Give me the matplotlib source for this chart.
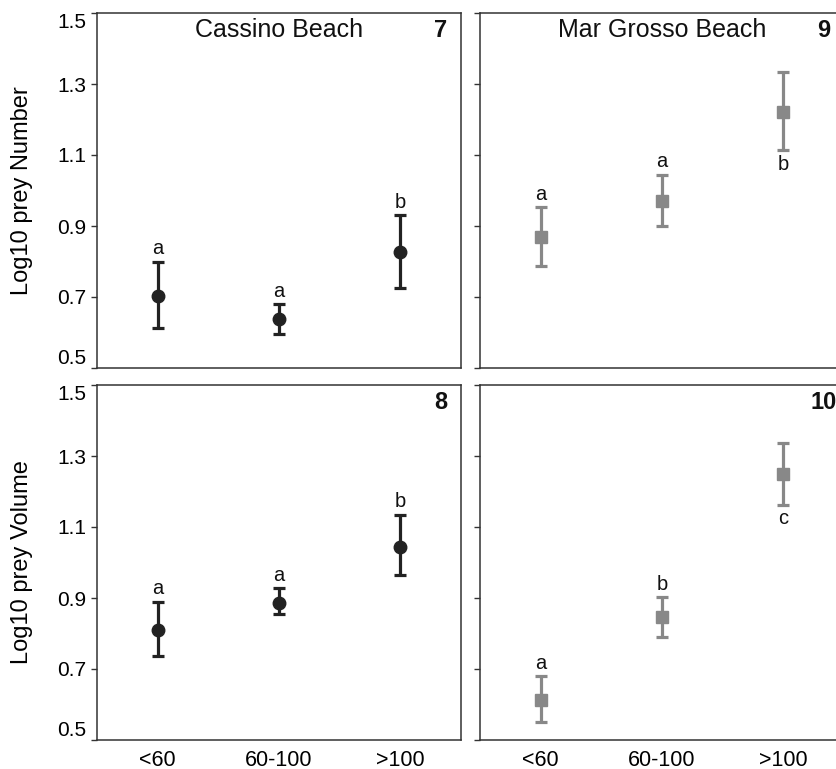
import matplotlib
matplotlib.use("Agg")
import matplotlib.pyplot as plt

plt.rcParams['font.family'] = ['Liberation Sans', 'DejaVu Sans']

categories = ["<60", "60-100", ">100"]
yticks = [0.5, 0.7, 0.9, 1.1, 1.3, 1.5]

# Cassino Beach - number (panel 7)
cas_num_mean = [0.704, 0.637, 0.826]
cas_num_hi = [0.799, 0.680, 0.930]
cas_num_lo = [0.612, 0.595, 0.726]
cas_num_letters = ["a", "a", "b"]
cas_num_pos = ["above", "above", "above"]

# Mar Grosso Beach - number (panel 9)
mg_num_mean = [0.868, 0.970, 1.220]
mg_num_hi = [0.953, 1.044, 1.333]
mg_num_lo = [0.788, 0.901, 1.113]
mg_num_letters = ["a", "a", "b"]
mg_num_pos = ["above", "above", "below"]

# Cassino Beach - volume (panel 8)
cas_vol_mean = [0.810, 0.887, 1.045]
cas_vol_hi = [0.890, 0.927, 1.135]
cas_vol_lo = [0.736, 0.854, 0.964]
cas_vol_letters = ["a", "a", "b"]
cas_vol_pos = ["above", "above", "above"]

# Mar Grosso Beach - volume (panel 10)
mg_vol_mean = [0.613, 0.846, 1.249]
mg_vol_hi = [0.680, 0.902, 1.336]
mg_vol_lo = [0.550, 0.790, 1.162]
mg_vol_letters = ["a", "b", "c"]
mg_vol_pos = ["above", "above", "below"]

W, H = 837, 769
fig = plt.figure(figsize=(W / 100, H / 100), dpi=100)

def box(x0, y0, x1, y1):
    return [x0 / W, 1 - y1 / H, (x1 - x0) / W, (y1 - y0) / H]

ax_tl = fig.add_axes(box(97, 13, 461, 368))
ax_tr = fig.add_axes(box(480, 13, 844, 368))
ax_bl = fig.add_axes(box(97, 385, 461, 740))
ax_br = fig.add_axes(box(480, 385, 844, 740))

dark = "#222222"
gray = "#888888"
spine_col = "#333333"

def draw(ax, mean, hi, lo, letters, pos, color, marker, ms, number, title=None,
         ylabel=None, ylabels=True, xlabels=False):
    x = [1, 2, 3]
    yerr = [[m - l for m, l in zip(mean, lo)], [h - m for m, h in zip(mean, hi)]]
    ax.errorbar(x, mean, yerr=yerr, fmt=marker, color=color, ecolor=color,
                ms=ms, elinewidth=2.3, capsize=4.6, capthick=2.3, zorder=3)
    for xi, l, h, lt, p in zip(x, lo, hi, letters, pos):
        if p == "above":
            ax.annotate(lt, (xi, h), xytext=(0, 2.5), textcoords="offset points",
                        ha="center", va="bottom", fontsize=14.5, color="#111111")
        else:
            ax.annotate(lt, (xi, l), xytext=(0, -3), textcoords="offset points",
                        ha="center", va="top", fontsize=14.5, color="#111111")
    ax.set_xlim(0.5, 3.5)
    ax.set_ylim(0.5, 1.5)
    ax.set_yticks(yticks)
    if ylabels:
        ax.set_yticklabels([f"{v:.1f}" for v in yticks], fontsize=15)
        labs = ax.get_yticklabels()
        labs[0].set_verticalalignment("bottom")
        labs[-1].set_verticalalignment("top")
    else:
        ax.set_yticklabels([])
    ax.set_xticks(x)
    if xlabels:
        ax.set_xticklabels(categories, fontsize=15.5)
    else:
        ax.set_xticklabels([])
    ax.tick_params(axis="x", length=0, pad=7.5)
    ax.tick_params(axis="y", direction="out", length=4.5, width=1.0,
                   color=spine_col, pad=3)
    for s in ax.spines.values():
        s.set_color(spine_col)
        s.set_linewidth(1.1)
    if ylabel:
        ax.set_ylabel(ylabel, fontsize=17)
        ax.yaxis.set_label_coords(-0.176, 0.5)
    if title:
        ax.text(0.5, 0.952, title, transform=ax.transAxes, ha="center",
                va="center", fontsize=18, color="#111111")
    ax.text(0.945, 0.952, number, transform=ax.transAxes, ha="center",
            va="center", fontsize=17, fontweight="bold", color="#111111")

draw(ax_tl, cas_num_mean, cas_num_hi, cas_num_lo, cas_num_letters, cas_num_pos,
     dark, "o", 9, "7", title="Cassino Beach", ylabel="Log10 prey Number")
draw(ax_tr, mg_num_mean, mg_num_hi, mg_num_lo, mg_num_letters, mg_num_pos,
     gray, "s", 8.5, "9", title="Mar Grosso Beach", ylabels=False)
draw(ax_bl, cas_vol_mean, cas_vol_hi, cas_vol_lo, cas_vol_letters, cas_vol_pos,
     dark, "o", 9, "8", ylabel="Log10 prey Volume", xlabels=True)
draw(ax_br, mg_vol_mean, mg_vol_hi, mg_vol_lo, mg_vol_letters, mg_vol_pos,
     gray, "s", 8.5, "10", ylabels=False, xlabels=True)

fig.savefig("out.png", dpi=100)
